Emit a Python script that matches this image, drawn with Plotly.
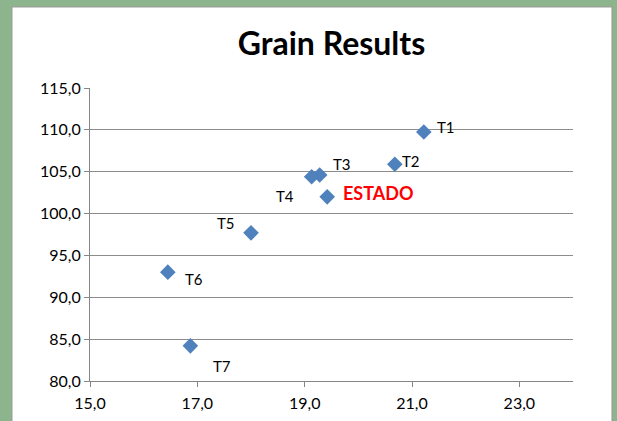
import plotly.graph_objects as go

names = ["T1", "T2", "T3", "T4", "ESTADO", "T5", "T6", "T7"]
x_vals = [21.22, 20.68, 19.28, 19.13, 19.42, 18.0, 16.45, 16.87]
y_vals = [109.75, 105.9, 104.6, 104.4, 102.0, 97.7, 93.0, 84.2]
# label pixel offsets (styling)
label_dx = [22, 16, 22, -27, 51, -25, 26, 32]
label_dy = [5, 3, 11, -19, 4, 10, -7, -20]
label_color = ["black"] * 4 + ["red"] + ["black"] * 3
label_bold = [False] * 4 + [True] + [False] * 3

FONT = "Lato, Open Sans, sans-serif"

fig = go.Figure()
fig.add_trace(go.Scatter(
    x=x_vals, y=y_vals, mode="markers",
    marker=dict(symbol="diamond", size=12, color="#4F81BD"),
    hoverinfo="text", text=names, showlegend=False,
))

for n, x, y, dx, dy, c, b in zip(names, x_vals, y_vals, label_dx, label_dy, label_color, label_bold):
    fig.add_annotation(
        x=x, y=y, xref="x", yref="y", text=f"<b>{n}</b>" if b else n,
        showarrow=False, xshift=dx, yshift=dy,
        font=dict(family=FONT, size=18 if b else 15, color=c),
    )

fig.add_shape(type="rect", xref="paper", yref="paper",
              x0=-0.1615, x1=1.0807, y0=-0.2, y1=1.2765,
              fillcolor="white", line=dict(color="#9a9a9a", width=1), layer="below")

fig.update_layout(
    width=617, height=421,
    margin=dict(l=90, r=44, t=88, b=40),
    paper_bgcolor="#8DB58D",
    plot_bgcolor="white",
    separators=",.",
    font=dict(family=FONT, size=16, color="black"),
    title=dict(text="<b>Grain Results</b>", x=0.5, xref="paper", xanchor="center",
               y=1 - 44 / 421, yanchor="middle",
               font=dict(family=FONT, size=32, color="black")),
)
fig.update_xaxes(range=[15, 24], tick0=15, dtick=2, tickformat=".1f",
                 showgrid=False, zeroline=False, automargin=False,
                 showline=True, linecolor="#868686", linewidth=1,
                 ticks="outside", ticklen=5, tickcolor="#868686",
                 ticklabelstandoff=3)
fig.update_yaxes(range=[80, 115], tick0=80, dtick=5, tickformat=".1f",
                 showgrid=True, gridcolor="#8c8c8c", gridwidth=1, zeroline=False,
                 automargin=False,
                 showline=True, linecolor="#868686", linewidth=1,
                 ticks="outside", ticklen=5, tickcolor="#868686")

fig.write_html("out.html", config={"displayModeBar": False},
               post_script="document.body.style.margin='0';document.body.style.padding='0';")
